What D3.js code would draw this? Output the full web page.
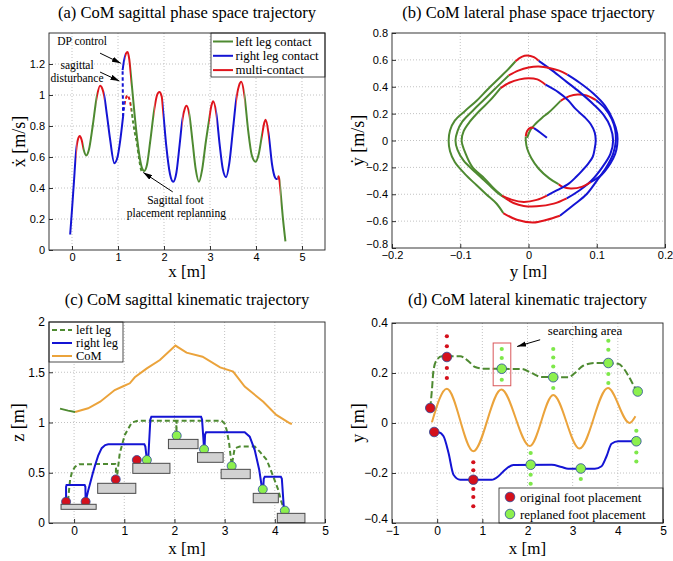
<!DOCTYPE html>
<html>
<head>
<meta charset="utf-8">
<script src="https://cdn.jsdelivr.net/npm/d3@7"></script>
<style>
  body { margin: 0; background: #fff; }
</style>
</head>
<body>
<script>
const SERIF = '"Liberation Serif","Times New Roman","DejaVu Serif",serif';
const SANS = '"Liberation Sans",Arial,sans-serif';

const green = "#4e8a31", blue = "#1414d4", red = "#e0141c", orange = "#eba33b";
const footRed = "#d4101c", footGreen = "#8cf04e";
const phaseColor = { L: green, R: blue, M: red };

// ---------- (a) sagittal phase space: x vs xdot ----------
// before the disturbance
const sagX = [-0.04, 0.0, 0.04, 0.09, 0.13, 0.17, 0.21, 0.26, 0.31, 0.37, 0.45, 0.54, 0.61, 0.66, 0.70, 0.76, 0.83, 0.92, 0.99, 1.05, 1.11];
const sagV = [0.10, 0.26, 0.43, 0.64, 0.715, 0.735, 0.71, 0.64, 0.61, 0.65, 0.80, 0.99, 1.06, 1.04, 0.995, 0.87, 0.71, 0.56, 0.60, 0.71, 0.86];
// after the disturbance
const sagX2 = [1.10, 1.13, 1.17, 1.21, 1.245, 1.28, 1.33, 1.40, 1.47, 1.52, 1.57, 1.63, 1.70, 1.79, 1.85, 1.90, 1.95, 1.98, 2.05, 2.13, 2.20, 2.27, 2.34, 2.40, 2.45, 2.49, 2.55, 2.62, 2.69, 2.76, 2.83, 2.91, 2.98, 3.03, 3.07, 3.14, 3.21, 3.28, 3.35, 3.42, 3.50, 3.57, 3.63, 3.68, 3.75, 3.83, 3.91, 3.99, 4.06, 4.13, 4.18, 4.21, 4.28, 4.35, 4.41, 4.44, 4.47, 4.49, 4.51, 4.53, 4.58, 4.64];
const sagV2 = [1.16, 1.22, 1.265, 1.278, 1.23, 1.13, 0.97, 0.76, 0.60, 0.53, 0.51, 0.55, 0.70, 0.91, 1.00, 1.02, 0.99, 0.90, 0.67, 0.49, 0.44, 0.50, 0.68, 0.84, 0.91, 0.93, 0.875, 0.70, 0.52, 0.44, 0.52, 0.70, 0.84, 0.93, 0.96, 0.875, 0.68, 0.52, 0.47, 0.56, 0.78, 0.97, 1.06, 1.085, 0.995, 0.77, 0.61, 0.57, 0.62, 0.74, 0.82, 0.84, 0.735, 0.55, 0.47, 0.458, 0.46, 0.476, 0.45, 0.39, 0.22, 0.055];
// undisturbed / replanned branch (dashed)
const orgX = [1.11, 1.14, 1.18, 1.21, 1.24, 1.28, 1.33, 1.37, 1.41, 1.46, 1.50, 1.53];
const orgV = [0.86, 0.935, 0.985, 0.999, 0.98, 0.93, 0.82, 0.75, 0.69, 0.585, 0.52, 0.505];
const pushX = [1.11, 1.10];
const pushV = [0.86, 1.16];
// contact phase along x
const sagBreaks = [-0.1, 0.094, 0.24, 0.54, 0.70, 1.15, 1.28, 1.79, 1.98, 2.40, 2.55, 2.98, 3.14, 3.57, 3.75, 4.13, 4.28, 4.47, 4.53, 4.7];
const sagPhase = ["R", "M", "L", "M", "R", "M", "L", "M", "R", "M", "L", "M", "R", "M", "L", "M", "R", "M", "L"];

// ---------- (b) lateral phase space: y vs ydot ----------
const latStart = [[-0.002, 0.02], [0.003, 0.08], [0.01, 0.123], [0.02, 0.17], [0.03, 0.21], [0.047, 0.295]];
const latSwing = [[0.047, 0.295], [0.06, 0.33], [0.072, 0.342], [0.085, 0.335], [0.099, 0.30]];
const latRight1 = [[0.099, 0.30], [0.112, 0.24], [0.122, 0.16], [0.127, 0.08], [0.128, 0], [0.124, -0.1], [0.114, -0.2], [0.1, -0.3], [0.085, -0.4], [0.066, -0.48], [0.046, -0.56]];
const latBotOuter = [[0.046, -0.56], [0.027, -0.59], [0.007, -0.61], [-0.017, -0.59], [-0.037, -0.54]];
const latLeftOuter = [[-0.037, -0.54], [-0.047, -0.469], [-0.062, -0.4], [-0.076, -0.333], [-0.093, -0.25], [-0.108, -0.16], [-0.115, -0.08], [-0.117, 0], [-0.115, 0.075], [-0.108, 0.148], [-0.093, 0.22], [-0.076, 0.296], [-0.06, 0.38], [-0.042, 0.469], [-0.028, 0.54], [-0.019, 0.59]];
const latTopOuter = [[-0.019, 0.59], [-0.01, 0.622], [-0.002, 0.632], [0.008, 0.62], [0.015, 0.593]];
const latRight2 = [[0.015, 0.593], [0.035, 0.52], [0.055, 0.44], [0.075, 0.36], [0.095, 0.27], [0.11, 0.19], [0.12, 0.1], [0.124, 0], [0.12, -0.1], [0.108, -0.2], [0.092, -0.3], [0.075, -0.37], [0.056, -0.43]];
const latBotMid = [[0.056, -0.43], [0.037, -0.47], [0.012, -0.49], [-0.007, -0.487], [-0.022, -0.465], [-0.034, -0.43]];
const latLeftMid = [[-0.034, -0.43], [-0.045, -0.39], [-0.06, -0.32], [-0.077, -0.24], [-0.095, -0.15], [-0.104, -0.07], [-0.107, 0], [-0.104, 0.07], [-0.097, 0.14], [-0.082, 0.22], [-0.066, 0.3], [-0.048, 0.39], [-0.029, 0.484]];
const latTopMid = [[-0.029, 0.484], [-0.015, 0.52], [0.0, 0.543], [0.015, 0.55], [0.032, 0.538], [0.045, 0.52], [0.057, 0.49]];
const latRight4 = [[0.057, 0.49], [0.075, 0.43], [0.095, 0.35], [0.112, 0.26], [0.124, 0.15], [0.13, 0.05], [0.13, -0.03], [0.127, -0.1], [0.12, -0.17], [0.105, -0.265], [0.091, -0.31]];
const latEndArc = [[0.091, -0.31], [0.078, -0.345], [0.062, -0.357], [0.05, -0.345], [0.044, -0.325]];
const latEndLeft = [[0.044, -0.325], [0.03, -0.28], [0.015, -0.21], [0.004, -0.13], [-0.002, -0.06], [-0.004, 0.0], [-0.004, 0.03]];
const latHook = [[-0.004, 0.03], [-0.002, 0.07], [0.003, 0.095], [0.008, 0.092]];
const latEndRight = [[0.008, 0.092], [0.017, 0.06], [0.027, 0.02]];
const latTopInner = [[-0.041, 0.39], [-0.028, 0.43], [-0.013, 0.455], [0.0, 0.464], [0.013, 0.455], [0.025, 0.415]];
const latRight3 = [[0.025, 0.415], [0.044, 0.358], [0.058, 0.3], [0.069, 0.235], [0.082, 0.175], [0.091, 0.123], [0.097, 0.06], [0.0985, 0], [0.097, -0.06], [0.094, -0.123], [0.087, -0.175], [0.079, -0.222], [0.07, -0.27], [0.059, -0.321], [0.042, -0.37], [0.027, -0.41]];
const latBotInner = [[0.027, -0.41], [0.012, -0.442], [-0.007, -0.457], [-0.025, -0.44], [-0.039, -0.41]];
const latLeftInner = [[-0.039, -0.41], [-0.05, -0.36], [-0.065, -0.28], [-0.082, -0.2], [-0.092, -0.1], [-0.098, 0], [-0.095, 0.07], [-0.086, 0.14], [-0.072, 0.22], [-0.056, 0.3], [-0.041, 0.39]];
const latPieces = [
  [latStart, "L"], [latSwing, "M"], [latRight1, "R"], [latBotOuter, "M"], [latLeftOuter, "L"],
  [latTopOuter, "M"], [latRight2, "R"], [latBotMid, "M"], [latLeftMid, "L"], [latTopMid, "M"],
  [latRight4, "R"], [latEndArc, "M"], [latEndLeft, "L"], [latHook, "M"], [latEndRight, "R"],
  [latTopInner, "M"], [latRight3, "R"], [latBotInner, "M"], [latLeftInner, "L"]
];

// ---------- (c) sagittal kinematics: x vs z ----------
const stepL = [-0.26, 0.47, 1.17, 1.88, 2.46, 2.93, 3.57, 4.05];
const stepR = [0.44, 1.23, 1.91, 2.47, 2.97, 3.51, 4.07, 4.60];
const stepTop = [0.186, 0.395, 0.594, 0.832, 0.700, 0.534, 0.295, 0.096];
const stepBot = [0.136, 0.295, 0.494, 0.740, 0.604, 0.441, 0.202, 0.003];
const origFootX = [-0.16, 0.23, 0.83, 1.25];
const origFootZ = [0.212, 0.212, 0.434, 0.627];
const replFootX = [1.45, 2.045, 2.59, 3.14, 3.76, 4.20];
const replFootZ = [0.627, 0.869, 0.733, 0.567, 0.335, 0.123];
const rightLegX = [-0.16, -0.16, -0.15, 0.21, 0.225, 0.23, 0.245, 0.28, 0.32, 0.37, 0.42, 0.48, 0.55, 0.62, 0.68, 1.40, 1.42, 1.45, 1.48, 1.52, 1.54, 2.53, 2.55, 2.59, 2.60, 2.61, 2.63, 3.40, 3.50, 3.60, 3.69, 3.74, 3.77, 3.78, 3.80, 4.12, 4.14, 4.18];
const rightLegZ = [0.21, 0.36, 0.378, 0.378, 0.36, 0.21, 0.245, 0.32, 0.395, 0.49, 0.577, 0.67, 0.745, 0.775, 0.783, 0.783, 0.76, 0.63, 0.66, 1.03, 1.056, 1.058, 1.03, 0.74, 0.75, 0.88, 0.902, 0.902, 0.859, 0.726, 0.527, 0.361, 0.36, 0.44, 0.461, 0.461, 0.44, 0.15];
const leftLegX = [-0.12, -0.10, -0.08, -0.04, 0.02, 0.10, 0.82, 0.835, 0.83, 0.85, 0.91, 1.01, 1.15, 1.28, 2.035, 2.04, 2.045, 2.94, 3.00, 3.04, 3.09, 3.12, 3.14, 3.16, 3.20, 3.30, 3.60, 3.70, 3.84, 3.97, 4.07, 4.13, 4.18];
const leftLegZ = [0.22, 0.33, 0.43, 0.51, 0.56, 0.585, 0.587, 0.55, 0.44, 0.444, 0.693, 0.876, 1.0, 1.018, 1.018, 0.90, 1.018, 1.018, 0.99, 0.925, 0.793, 0.66, 0.58, 0.627, 0.743, 0.76, 0.76, 0.71, 0.627, 0.461, 0.328, 0.212, 0.146];
const comX = [-0.28, -0.12, 0.02, 0.28, 0.52, 0.81, 0.99, 1.11, 1.21, 1.45, 1.71, 2.02, 2.24, 2.56, 2.91, 3.17, 3.40, 3.77, 4.03, 4.30, 4.34];
const comZ = [1.138, 1.118, 1.105, 1.141, 1.207, 1.323, 1.363, 1.39, 1.45, 1.539, 1.622, 1.765, 1.695, 1.655, 1.549, 1.506, 1.357, 1.207, 1.075, 0.992, 0.985];

// ---------- (d) lateral kinematics: x vs y ----------
const leftLatX = [-0.153, -0.116, -0.08, -0.006, 0.105, 0.51, 0.694, 0.84, 1.06, 1.87, 2.09, 2.31, 2.90, 3.05, 3.23, 3.49, 4.01, 4.15, 4.30, 4.43];
const leftLatY = [0.06, 0.133, 0.213, 0.253, 0.267, 0.267, 0.247, 0.224, 0.217, 0.216, 0.20, 0.184, 0.183, 0.20, 0.229, 0.24, 0.237, 0.213, 0.167, 0.124];
const rightLatX = [-0.065, 0.031, 0.141, 0.252, 0.362, 0.51, 1.21, 1.356, 1.504, 1.688, 2.535, 2.755, 2.90, 3.49, 3.64, 3.75, 3.86, 4.01, 4.41];
const rightLatY = [-0.036, -0.037, -0.053, -0.12, -0.207, -0.227, -0.227, -0.213, -0.187, -0.168, -0.167, -0.176, -0.183, -0.183, -0.173, -0.133, -0.083, -0.073, -0.073];
const comLatX = [-0.116, 0.215, 0.80, 1.42, 2.05, 2.57, 3.15, 3.78, 4.26, 4.39];
const comLatY = [0.003, 0.137, -0.113, 0.134, -0.092, 0.112, -0.102, 0.14, 0.0, 0.027];
const origLatX = [-0.153, -0.065, 0.215, 0.80];
const origLatY = [0.06, -0.036, 0.264, -0.227];
const replLatX = [1.43, 2.07, 2.57, 3.18, 3.79, 4.41, 4.44];
const replLatY = [0.217, -0.167, 0.183, -0.182, 0.24, -0.073, 0.126];
const origDotX = [0.215, 0.215, 0.215, 0.215, 0.80, 0.80, 0.80, 0.80, 0.80];
const origDotY = [0.347, 0.307, 0.22, 0.18, -0.157, -0.189, -0.264, -0.296, -0.333];
const replDotX = [1.43, 1.43, 1.43, 2.07, 2.07, 2.07, 2.57, 2.57, 2.57, 2.57, 3.18, 3.79, 3.79, 3.79, 3.79, 4.41, 4.41, 4.41];
const replDotY = [0.296, 0.26, 0.173, -0.12, -0.207, -0.243, 0.296, 0.262, 0.226, 0.14, -0.224, 0.329, 0.293, 0.196, 0.16, -0.031, -0.118, -0.154];
const searchBox = { x: [1.24, 1.63], y: [0.149, 0.32] };

// ---------------------------------------------------------
const svg = d3.select("body").append("svg").attr("width", 673).attr("height", 561);
const defs = svg.append("defs");
defs.append("marker").attr("id", "arrow")
  .attr("viewBox", "0 0 10 6").attr("refX", 10).attr("refY", 3)
  .attr("markerWidth", 9).attr("markerHeight", 5.5).attr("markerUnits", "userSpaceOnUse")
  .attr("orient", "auto")
  .append("path").attr("d", "M0,0L10,3L0,6Z").attr("fill", "#000");

const fmt = d3.format(".1~f");

function panel(box, xDom, yDom, xTicks, yTicks, fs) {
  const x = d3.scaleLinear().domain(xDom).range([box.x0, box.x1]);
  const y = d3.scaleLinear().domain(yDom).range([box.y1, box.y0]);
  const g = svg.append("g");
  g.append("rect").attr("x", box.x0).attr("y", box.y0)
    .attr("width", box.x1 - box.x0).attr("height", box.y1 - box.y0).attr("fill", "#fff");
  g.selectAll(".gx").data(xTicks.filter(t => x(t) > box.x0 + 1 && x(t) < box.x1 - 1)).join("line")
    .attr("x1", d => x(d)).attr("x2", d => x(d)).attr("y1", box.y0).attr("y2", box.y1)
    .attr("stroke", "#c2c2c2").attr("stroke-dasharray", "1,2");
  g.selectAll(".gy").data(yTicks.filter(t => y(t) > box.y0 + 1 && y(t) < box.y1 - 1)).join("line")
    .attr("y1", d => y(d)).attr("y2", d => y(d)).attr("x1", box.x0).attr("x2", box.x1)
    .attr("stroke", "#c2c2c2").attr("stroke-dasharray", "1,2");
  const ax = g.append("g").attr("transform", `translate(0,${box.y1})`)
    .call(d3.axisBottom(x).tickValues(xTicks).tickFormat(fmt).tickSizeInner(-4).tickSizeOuter(0).tickPadding(3));
  const ay = g.append("g").attr("transform", `translate(${box.x0},0)`)
    .call(d3.axisLeft(y).tickValues(yTicks).tickFormat(fmt).tickSizeInner(-4).tickSizeOuter(0).tickPadding(4));
  [ax, ay].forEach(a => {
    a.select(".domain").remove();
    a.attr("font-family", SANS).attr("font-size", fs);
    a.selectAll("line").attr("stroke", "#333");
    a.selectAll("text").attr("fill", "#000");
  });
  const data = svg.append("g");
  return { x, y, g: data, box, ay };
}

function frame(p) {
  const b = p.box;
  svg.append("rect").attr("x", b.x0).attr("y", b.y0).attr("width", b.x1 - b.x0).attr("height", b.y1 - b.y0)
    .attr("fill", "none").attr("stroke", "#222").attr("stroke-width", 0.9);
}

function labels(p, title, titleY, xlab, xlabY, ylab, ylabX) {
  const cx = (p.box.x0 + p.box.x1) / 2;
  svg.append("text").attr("x", cx).attr("y", titleY).attr("text-anchor", "middle")
    .attr("font-family", SERIF).attr("font-size", 16.5).text(title);
  svg.append("text").attr("x", cx).attr("y", xlabY).attr("text-anchor", "middle")
    .attr("font-family", SERIF).attr("font-size", 17).text(xlab);
  svg.append("text").attr("transform", `translate(${ylabX},${(p.box.y0 + p.box.y1) / 2}) rotate(-90)`)
    .attr("text-anchor", "middle").attr("font-family", SERIF).attr("font-size", 18).text(ylab);
}

function note(x, y, str, fs, anchor) {
  svg.append("text").attr("x", x).attr("y", y).attr("text-anchor", anchor || "middle")
    .attr("font-family", SERIF).attr("font-size", fs).text(str);
}

function arrow(x1, y1, x2, y2) {
  svg.append("line").attr("x1", x1).attr("y1", y1).attr("x2", x2).attr("y2", y2)
    .attr("stroke", "#000").attr("stroke-width", 1).attr("marker-end", "url(#arrow)");
}

// ---------------- panel (a) ----------------
const A = panel({ x0: 49, x1: 325, y0: 33, y1: 250 }, [-0.5, 5.5], [0, 1.4],
  [0, 1, 2, 3, 4, 5], [0, 0.2, 0.4, 0.6, 0.8, 1, 1.2], 11);
const monoA = d3.line().x(d => A.x(d[0])).y(d => A.y(d[1])).curve(d3.curveMonotoneX);
const linA = d3.line().x(d => A.x(d[0])).y(d => A.y(d[1]));

sagPhase.forEach((p, i) => {
  const id = "clipA" + i;
  defs.append("clipPath").attr("id", id).append("rect")
    .attr("x", A.x(sagBreaks[i])).attr("width", A.x(sagBreaks[i + 1]) - A.x(sagBreaks[i]))
    .attr("y", A.box.y0).attr("height", A.box.y1 - A.box.y0);
  const g = A.g.append("g").attr("clip-path", `url(#${id})`)
    .attr("fill", "none").attr("stroke", phaseColor[p]).attr("stroke-width", 2);
  g.append("path").attr("d", monoA(d3.zip(sagX, sagV)));
  g.append("path").attr("d", monoA(d3.zip(sagX2, sagV2)));
  g.append("path").attr("d", monoA(d3.zip(orgX, orgV))).attr("stroke-dasharray", "3.5,2.5");
  g.append("path").attr("d", linA(d3.zip(pushX, pushV))).attr("stroke-dasharray", "3.5,2.5");
});

note(A.x(0.22), A.y(1.325), "DP control", 11.5);
note(A.x(0.11), A.y(1.17), "sagittal", 11.5);
note(A.x(0.11), A.y(1.085), "disturbance", 11.5);
arrow(A.x(0.61), A.y(1.27), A.x(1.06), A.y(1.205));
arrow(A.x(0.61), A.y(1.148), A.x(1.03), A.y(1.09));
note(A.x(2.25), A.y(0.3), "Sagittal foot", 11.5);
note(A.x(2.27), A.y(0.215), "placement replanning", 11.5);
arrow(A.x(2.19), A.y(0.375), A.x(1.55), A.y(0.5));

// legend (a)
const legA = [["left leg contact", green], ["right leg contact", blue], ["multi-contact", red]];
svg.append("rect").attr("x", 211).attr("y", 33).attr("width", 114).attr("height", 44)
  .attr("fill", "#fff").attr("stroke", "#222").attr("stroke-width", 0.8);
legA.forEach((d, i) => {
  const yy = 41.5 + i * 14.3;
  svg.append("line").attr("x1", 213).attr("x2", 233).attr("y1", yy).attr("y2", yy)
    .attr("stroke", d[1]).attr("stroke-width", 2);
  note(235.5, yy + 4, d[0], 12.8, "start");
});
frame(A);
labels(A, "(a) CoM sagittal phase space trajectory", 18, "x [m]", 277, "ẋ [m/s]", 25);

// ---------------- panel (b) ----------------
const B = panel({ x0: 392, x1: 665, y0: 33, y1: 248 }, [-0.2, 0.2], [-0.8, 0.8],
  [-0.2, -0.1, 0, 0.1, 0.2], [-0.8, -0.6, -0.4, -0.2, 0, 0.2, 0.4, 0.6, 0.8], 11);
// lift the corner label a little so it clears the x tick label below it
B.ay.selectAll(".tick text").filter(d => d === -0.8).attr("dy", "-0.05em");
const crB = d3.line().x(d => B.x(d[0])).y(d => B.y(d[1])).curve(d3.curveCatmullRom.alpha(0.5));
latPieces.forEach(([pts, p]) => {
  B.g.append("path").attr("d", crB(pts)).attr("fill", "none")
    .attr("stroke", phaseColor[p]).attr("stroke-width", 2);
});
frame(B);
labels(B, "(b) CoM lateral phase space trjaectory", 18, "y [m]", 277, "ẏ [m/s]", 364);

// ---------------- panel (c) ----------------
const Cp = panel({ x0: 49, x1: 325, y0: 322, y1: 523 }, [-0.5, 5], [0, 2],
  [0, 1, 2, 3, 4, 5], [0, 0.5, 1, 1.5, 2], 12);
const linC = d3.line().x(d => Cp.x(d[0])).y(d => Cp.y(d[1]));
const comPts = d3.zip(comX, comZ);
Cp.g.append("path").attr("d", linC(comPts.slice(2))).attr("fill", "none")
  .attr("stroke", orange).attr("stroke-width", 2);
Cp.g.append("path").attr("d", linC(comPts.slice(0, 3))).attr("fill", "none")
  .attr("stroke", green).attr("stroke-width", 2);
Cp.g.append("path").attr("d", linC(d3.zip(leftLegX, leftLegZ))).attr("fill", "none")
  .attr("stroke", green).attr("stroke-width", 2).attr("stroke-dasharray", "5,3");
Cp.g.append("path").attr("d", linC(d3.zip(rightLegX, rightLegZ))).attr("fill", "none")
  .attr("stroke", blue).attr("stroke-width", 2);
Cp.g.selectAll(".fo").data(d3.zip(origFootX, origFootZ)).join("circle")
  .attr("cx", d => Cp.x(d[0])).attr("cy", d => Cp.y(d[1])).attr("r", 4.5)
  .attr("fill", footRed).attr("stroke", "#2c4a9c").attr("stroke-width", 0.8);
Cp.g.selectAll(".fr").data(d3.zip(replFootX, replFootZ)).join("circle")
  .attr("cx", d => Cp.x(d[0])).attr("cy", d => Cp.y(d[1])).attr("r", 4.5)
  .attr("fill", footGreen).attr("stroke", "#2c4a9c").attr("stroke-width", 0.8);
Cp.g.selectAll(".step").data(d3.range(stepL.length)).join("rect")
  .attr("x", i => Cp.x(stepL[i])).attr("width", i => Cp.x(stepR[i]) - Cp.x(stepL[i]))
  .attr("y", i => Cp.y(stepTop[i])).attr("height", i => Cp.y(stepBot[i]) - Cp.y(stepTop[i]))
  .attr("fill", "#d2d2d2").attr("stroke", "#4a4a4a").attr("stroke-width", 1);

// legend (c)
svg.append("rect").attr("x", 49).attr("y", 322).attr("width", 74).attr("height", 40)
  .attr("fill", "#fff").attr("stroke", "#222").attr("stroke-width", 0.8);
[["left leg", green, "5,3"], ["right leg", blue, null], ["CoM", orange, null]].forEach((d, i) => {
  const yy = 330 + i * 13;
  svg.append("line").attr("x1", 52).attr("x2", 72).attr("y1", yy).attr("y2", yy)
    .attr("stroke", d[1]).attr("stroke-width", 2).attr("stroke-dasharray", d[2]);
  note(76, yy + 4, d[0], 12.5, "start");
});
frame(Cp);
labels(Cp, "(c) CoM sagittal kinematic trajectory", 305, "x [m]", 554, "z [m]", 24);

// ---------------- panel (d) ----------------
const D = panel({ x0: 392, x1: 663, y0: 323, y1: 523 }, [-1, 5], [-0.4, 0.4],
  [-1, 0, 1, 2, 3, 4, 5], [-0.4, -0.2, 0, 0.2, 0.4], 12);
D.ay.selectAll(".tick text").filter(d => d === -0.4).attr("dy", "-0.05em");
const monoD = d3.line().x(d => D.x(d[0])).y(d => D.y(d[1])).curve(d3.curveMonotoneX);
D.g.append("path").attr("d", monoD(d3.zip(comLatX, comLatY))).attr("fill", "none")
  .attr("stroke", orange).attr("stroke-width", 2);
D.g.append("path").attr("d", monoD(d3.zip(leftLatX, leftLatY))).attr("fill", "none")
  .attr("stroke", green).attr("stroke-width", 2).attr("stroke-dasharray", "7,3");
D.g.append("path").attr("d", monoD(d3.zip(rightLatX, rightLatY))).attr("fill", "none")
  .attr("stroke", blue).attr("stroke-width", 2);
D.g.selectAll(".od").data(d3.zip(origDotX, origDotY)).join("circle")
  .attr("cx", d => D.x(d[0])).attr("cy", d => D.y(d[1])).attr("r", 2.1).attr("fill", footRed);
D.g.selectAll(".rd").data(d3.zip(replDotX, replDotY)).join("circle")
  .attr("cx", d => D.x(d[0])).attr("cy", d => D.y(d[1])).attr("r", 2.1).attr("fill", "#7ee84a");
D.g.selectAll(".of").data(d3.zip(origLatX, origLatY)).join("circle")
  .attr("cx", d => D.x(d[0])).attr("cy", d => D.y(d[1])).attr("r", 4.8)
  .attr("fill", footRed).attr("stroke", "#2c4a9c").attr("stroke-width", 0.8);
D.g.selectAll(".rf").data(d3.zip(replLatX, replLatY)).join("circle")
  .attr("cx", d => D.x(d[0])).attr("cy", d => D.y(d[1])).attr("r", 4.8)
  .attr("fill", footGreen).attr("stroke", "#2c4a9c").attr("stroke-width", 0.8);
D.g.append("rect").attr("x", D.x(searchBox.x[0])).attr("y", D.y(searchBox.y[1]))
  .attr("width", D.x(searchBox.x[1]) - D.x(searchBox.x[0]))
  .attr("height", D.y(searchBox.y[0]) - D.y(searchBox.y[1]))
  .attr("fill", "none").attr("stroke", "#d9575a").attr("stroke-width", 1);
note(585, 335, "searching area", 13);
arrow(D.x(2.28), D.y(0.333), D.x(1.77), D.y(0.306));

// legend (d)
svg.append("rect").attr("x", 499).attr("y", 488).attr("width", 164).attr("height", 35)
  .attr("fill", "#fff").attr("stroke", "#222").attr("stroke-width", 0.8);
[["original foot placement", footRed], ["replaned foot placement", footGreen]].forEach((d, i) => {
  const yy = 497 + i * 17;
  svg.append("circle").attr("cx", 510).attr("cy", yy).attr("r", 4.8)
    .attr("fill", d[1]).attr("stroke", "#2c4a9c").attr("stroke-width", 0.8);
  note(520, yy + 4.5, d[0], 13, "start");
});
frame(D);
labels(D, "(d) CoM lateral kinematic trajectory", 305, "x [m]", 554, "y [m]", 364);
</script>
</body>
</html>
